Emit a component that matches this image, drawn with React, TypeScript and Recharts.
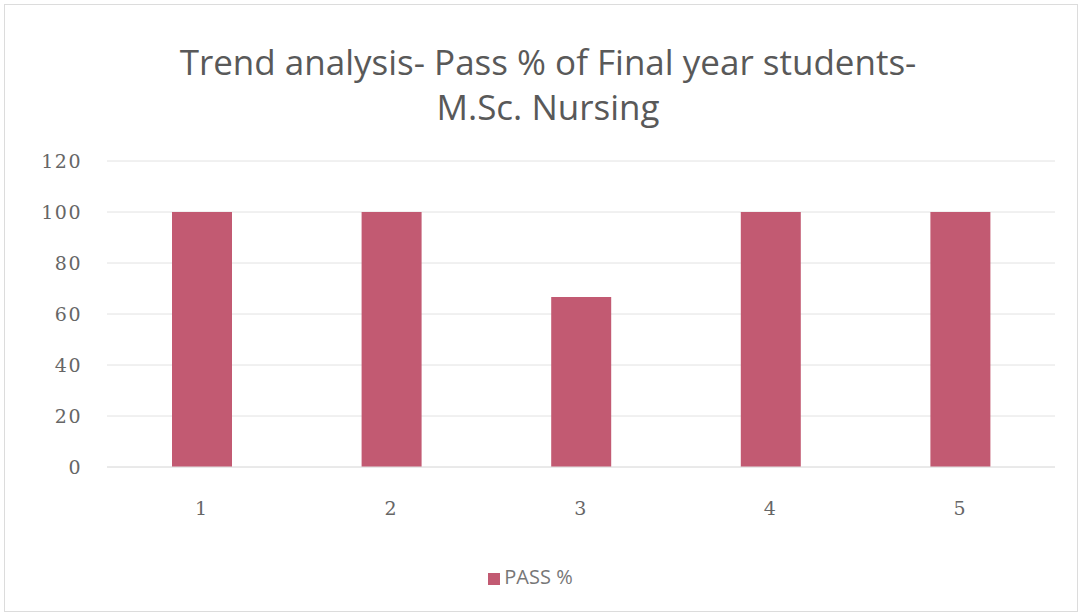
import { BarChart, Bar, XAxis, YAxis, CartesianGrid, Legend } from 'recharts';

const YEARS = ['1', '2', '3', '4', '5'];
const PASS_PCT = [100, 100, 66.67, 100, 100];
const Y_TICKS = [0, 20, 40, 60, 80, 100, 120];

const chartData = YEARS.map((year, i) => ({ year, pass: PASS_PCT[i] }));

const BAR_COLOR = '#c25a72';
const tickStyle = { fill: '#666', fontSize: 19, fontFamily: '"DejaVu Serif", serif', letterSpacing: 1.5 };

const App = () => {
  return (
    <div
      style={{
        position: 'absolute',
        top: 0,
        left: 0,
        width: 1078,
        height: 612,
        background: '#fff',
        fontFamily: '"Open Sans", sans-serif',
      }}
    >
      <div
        style={{
          position: 'absolute',
          left: 4,
          top: 4,
          right: 0,
          bottom: 0,
          border: '1px solid #dcdcdc',
        }}
      />
      <div
        style={{
          position: 'absolute',
          top: 39,
          left: 0,
          width: 1096,
          textAlign: 'center',
          color: '#595959',
          fontSize: 35,
          lineHeight: '45px',
        }}
      >
        Trend analysis- Pass % of Final year students-
        <br />
        M.Sc. Nursing
      </div>
      <BarChart
        width={1078}
        height={612}
        data={chartData}
        margin={{ top: 161, right: 23, bottom: 88, left: 0 }}
        style={{ position: 'absolute', top: 0, left: 0 }}
      >
        <CartesianGrid vertical={false} stroke="#e2e2e2" />
        <XAxis
          dataKey="year"
          axisLine={{ stroke: '#e2e2e2' }}
          tickLine={false}
          tickMargin={29}
          tick={tickStyle}
        />
        <YAxis
          width={107}
          domain={[0, 120]}
          ticks={Y_TICKS}
          axisLine={false}
          tickLine={false}
          tickMargin={19}
          tick={tickStyle}
        />
        <Legend
          verticalAlign="bottom"
          iconType="square"
          iconSize={12}
          wrapperStyle={{ bottom: 22, left: 8, fontSize: 20 }}
          formatter={(value: string) => <span style={{ color: '#777' }}>{value}</span>}
        />
        <Bar
          dataKey="pass"
          name="PASS %"
          fill={BAR_COLOR}
          barSize={60}
          isAnimationActive={false}
        />
      </BarChart>
    </div>
  );
};

export default App;
